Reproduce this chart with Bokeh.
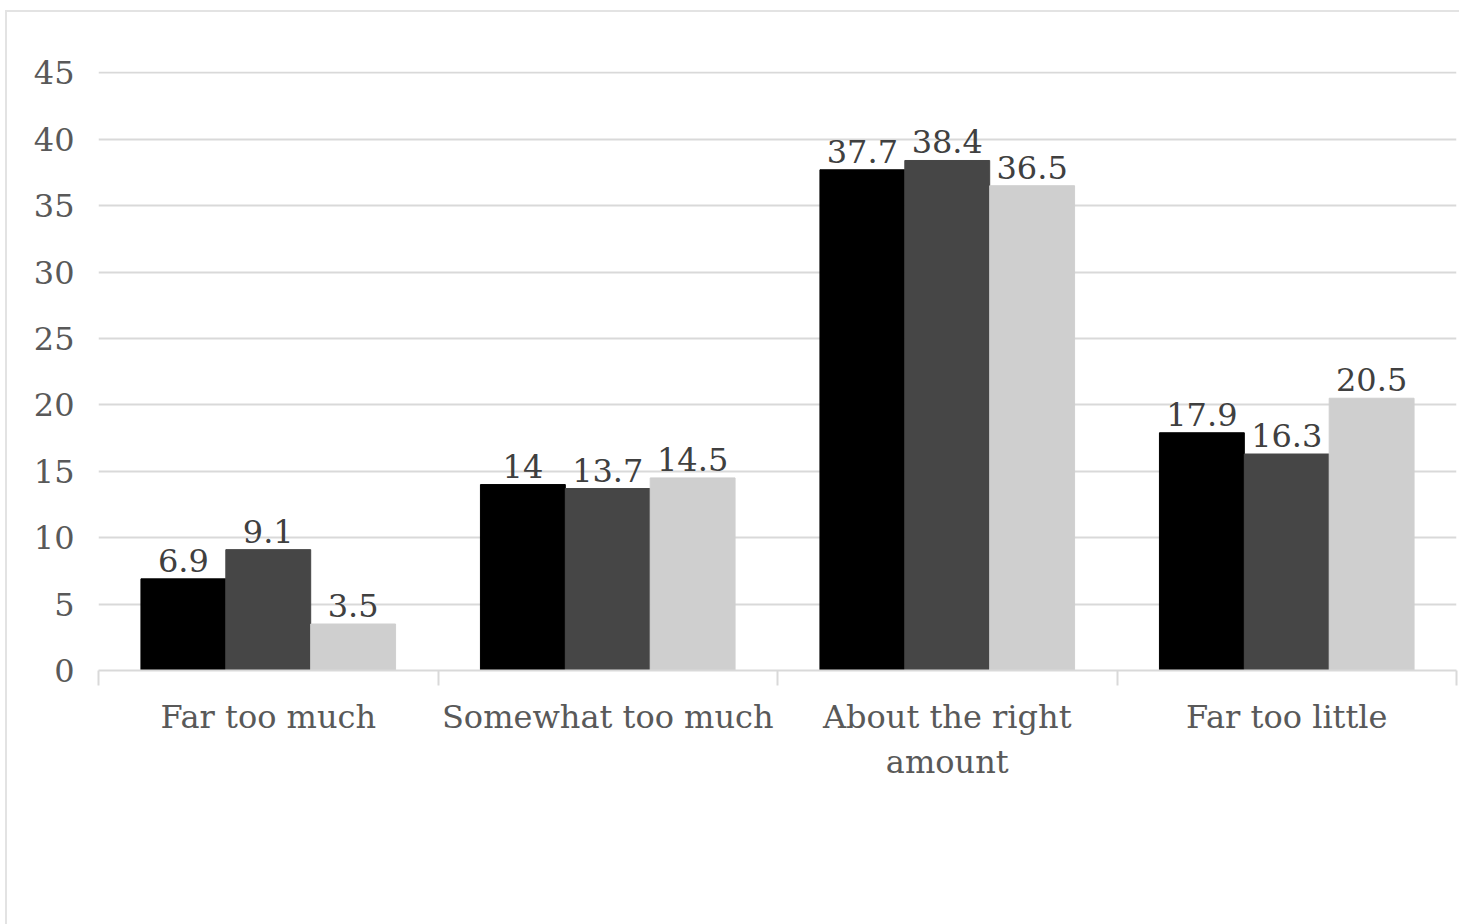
from bokeh.plotting import figure
from bokeh.models import Range1d, FixedTicker, ColumnDataSource
from bokeh.transform import dodge
from bokeh.core.properties import value
from bokeh.embed import file_html
from bokeh.resources import INLINE

categories = ["Far too much", "Somewhat too much", "About the right amount", "Far too little"]
category_labels = ["Far too much", "Somewhat too much", "About the right\namount", "Far too little"]
series_a = [6.9, 14, 37.7, 17.9]
series_b = [9.1, 13.7, 38.4, 16.3]
series_c = [3.5, 14.5, 36.5, 20.5]
y_ticks = [0, 5, 10, 15, 20, 25, 30, 35, 40, 45]

colors = ["#000000", "#464646", "#cfcfcf"]
FONT = "DejaVu Serif"
FS = "32px"

idx = list(range(len(categories)))

p = figure(x_range=Range1d(-0.5, len(categories) - 0.5),
           y_range=Range1d(0, 45.1),
           frame_width=1358, frame_height=599,
           min_border_left=91, min_border_right=3,
           min_border_top=59, min_border_bottom=254,
           output_backend="svg", toolbar_location=None,
           background_fill_color="white", border_fill_color="white")
p.styles = {"border-top": "2px solid #e3e3e3", "border-left": "2px solid #e3e3e3",
            "margin-left": "5px", "margin-top": "10px"}
p.outline_line_color = None
p.xgrid.grid_line_color = None

p.ygrid.ticker = FixedTicker(ticks=y_ticks)
p.ygrid.grid_line_color = "#d9d9d9"
p.ygrid.grid_line_width = 2
p.yaxis.ticker = FixedTicker(ticks=y_ticks)
p.yaxis.axis_line_color = None
p.yaxis.major_tick_line_color = None
p.yaxis.minor_tick_line_color = None
p.yaxis.major_label_standoff = 18
p.yaxis.major_label_text_font = FONT
p.yaxis.major_label_text_font_size = FS
p.yaxis.major_label_text_color = "#595959"

xax = p.xaxis[0]
xax.ticker = FixedTicker(ticks=idx, minor_ticks=[i - 0.5 for i in idx] + [len(idx) - 0.5])
xax.major_label_overrides = {i: category_labels[i] for i in idx}
xax.axis_line_color = "#d9d9d9"
xax.axis_line_width = 2
xax.major_tick_line_color = None
xax.minor_tick_line_color = "#d9d9d9"
xax.minor_tick_line_width = 2
xax.minor_tick_out = 15
xax.minor_tick_in = 0
xax.major_label_standoff = 12
xax.major_label_text_font = FONT
xax.major_label_text_font_size = FS
xax.major_label_text_color = "#595959"

src = ColumnDataSource(dict(
    xi=idx, cat=categories,
    a=series_a, b=series_b, c=series_c,
    la=[f"{v:g}" for v in series_a],
    lb=[f"{v:g}" for v in series_b],
    lc=[f"{v:g}" for v in series_c],
))

for key, off, col in [("a", -0.25, colors[0]), ("b", 0.0, colors[1]), ("c", 0.25, colors[2])]:
    xd = dodge("xi", off)
    p.vbar(x=xd, top=key, width=0.25, bottom=0, source=src,
           fill_color=col, line_color=col, line_width=1)
    p.text(x=xd, y=key, text="l" + key, source=src,
           text_align="center", text_baseline="bottom", y_offset=-7,
           text_font=value(FONT), text_font_size=FS, text_color="#404040")

open("out.html", "w").write(file_html(p, INLINE))
